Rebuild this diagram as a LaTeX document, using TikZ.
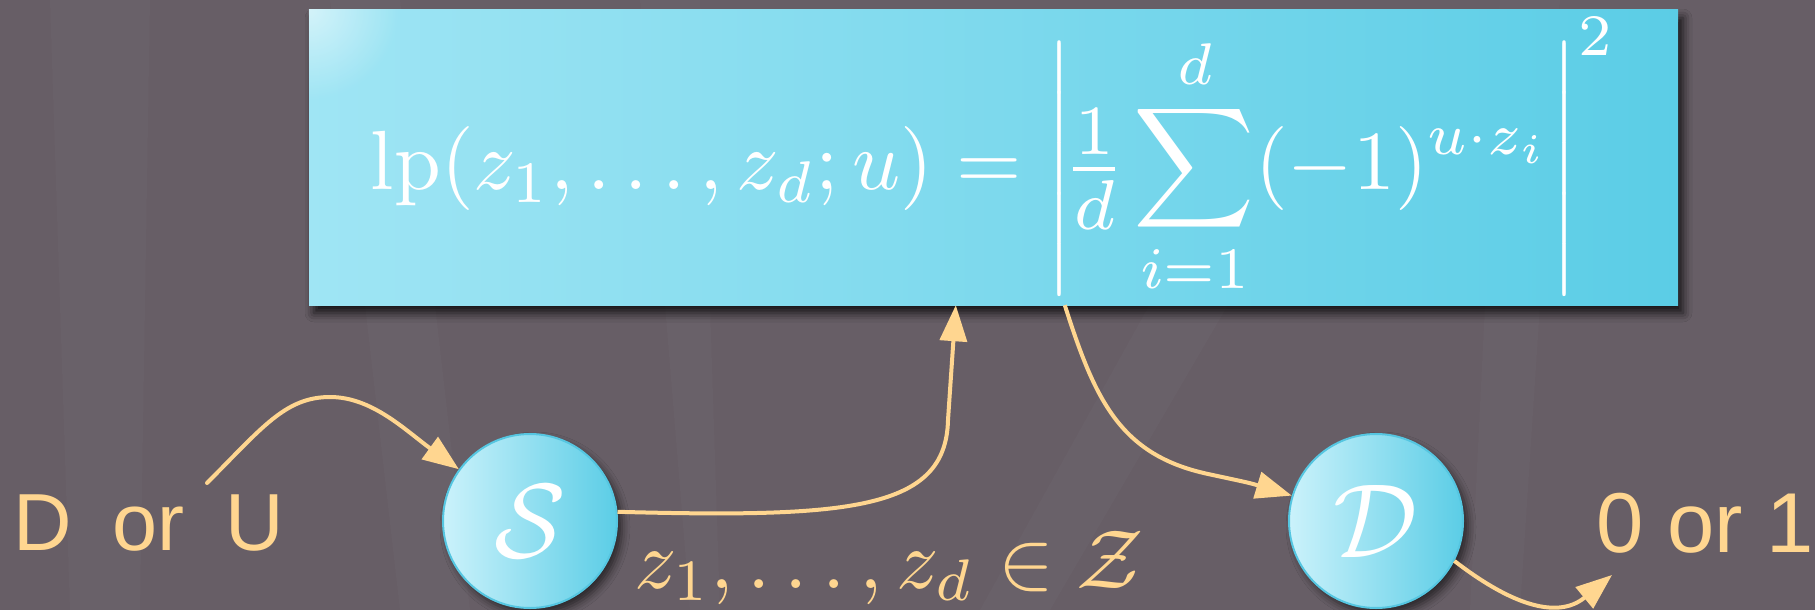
\documentclass[tikz,border=0pt]{standalone}
\usepackage{fontspec}
\setsansfont{Liberation Sans}
\usepackage{graphicx}
\usetikzlibrary{arrows.meta,shadows.blur,fadings,calc}
\definecolor{bg}{HTML}{675E66}
\definecolor{arr}{HTML}{FFD690}
\definecolor{cyanL}{HTML}{9FE5F4}
\definecolor{cyanR}{HTML}{5BCDE6}
\definecolor{circL}{HTML}{CBF2FB}
\definecolor{circB}{HTML}{55C6E1}
\tikzfading[name=cornerglow, inner color=transparent!0, outer color=transparent!100]
\begin{document}
\begin{tikzpicture}[x=1pt,y=-1pt,
  conn/.style={draw=arr, line width=4pt, -{Triangle[length=36pt,width=27pt]}},
  agent/.style={circle, minimum size=174pt, inner sep=0pt, left color=circL, right color=cyanR,
    draw=circB, line width=2pt, text=white,
    blur shadow={shadow xshift=5pt, shadow yshift=-6pt, shadow blur radius=8pt, shadow opacity=60}},
  formbox/.style={rectangle, minimum width=1369pt, minimum height=295pt, inner sep=0pt,
    left color=cyanL, right color=cyanR, text=white,
    blur shadow={shadow xshift=5pt, shadow yshift=-8pt, shadow blur radius=9pt, shadow opacity=80}},
  word/.style={text=arr, font=\sffamily, inner sep=0pt},
  ray/.style={fill=white, fill opacity=0.018}
]
\useasboundingbox (0,0) rectangle (1815,610);
\fill[bg] (0,0) rectangle (1815,610);
% faint background rays
\fill[ray] (50,0) -- (150,0) -- (140,610) -- (70,610) -- cycle;
\fill[ray] (330,0) -- (400,0) -- (470,610) -- (400,610) -- cycle;
\fill[ray] (640,0) -- (700,0) -- (720,610) -- (690,610) -- cycle;
\fill[ray] (1180,250) -- (1260,250) -- (1050,610) -- (980,610) -- cycle;
\fill[ray] (1500,0) -- (1560,0) -- (1520,610) -- (1470,610) -- cycle;

\node[formbox] (box) at (993.5,157.5)
  {\resizebox{1245pt}{!}{$\displaystyle \mathrm{lp}(z_1,\ldots,z_d;u) = \left|\raisebox{-0.06em}{\scalebox{1.2}{$\nulldelimiterspace=0pt\textstyle\frac{1}{d}$}}\mkern1mu\sum_{i=1}^{d}(-1)^{u\cdot z_i}\right|^2$}};
\begin{scope}
  \clip (box.south west) rectangle (box.north east);
  \fill[white, path fading=cornerglow, fill opacity=0.55] (box.north west) circle (90pt);
\end{scope}

\node[agent] (S) at (530,521) {\resizebox{!}{72pt}{$\mathcal{S}$}};
\node[agent] (D) at (1376,521) {\resizebox{!}{72pt}{$\mathcal{D}$}};

\node[word, anchor=base west] (du) at (13.5,550) {\fontsize{81}{90}\selectfont D\hspace{0.5em}or\hspace{0.5em}U};
\node[word, anchor=base west] (ou) at (1596.5,552) {\fontsize{85}{95}\selectfont 0 or 1};
\node[word, anchor=base west] (zl) at (634,588) {\resizebox{510pt}{!}{$z_1,\ldots,z_d\in\mathcal{Z}$}};

\coordinate (a1) at (207,483);
\coordinate (o4) at (1612,575);

\draw[conn, line cap=round] (a1) .. controls (262,428) and (285,397) .. (330,397)
  .. controls (372,397) and (405,430) .. (S);
\draw[conn] (S.6) .. controls (850,518) and (946,510) .. (948,420)
  -- ([xshift=647pt]box.south west);
\draw[conn] ([xshift=756pt]box.south west) .. controls (1095,400) and (1120,455) .. (1208,474)
  .. controls (1250,483) .. (D);
\draw[conn] (D.-27) .. controls (1505,600) and (1555,622) .. (o4);
\end{tikzpicture}
\end{document}
